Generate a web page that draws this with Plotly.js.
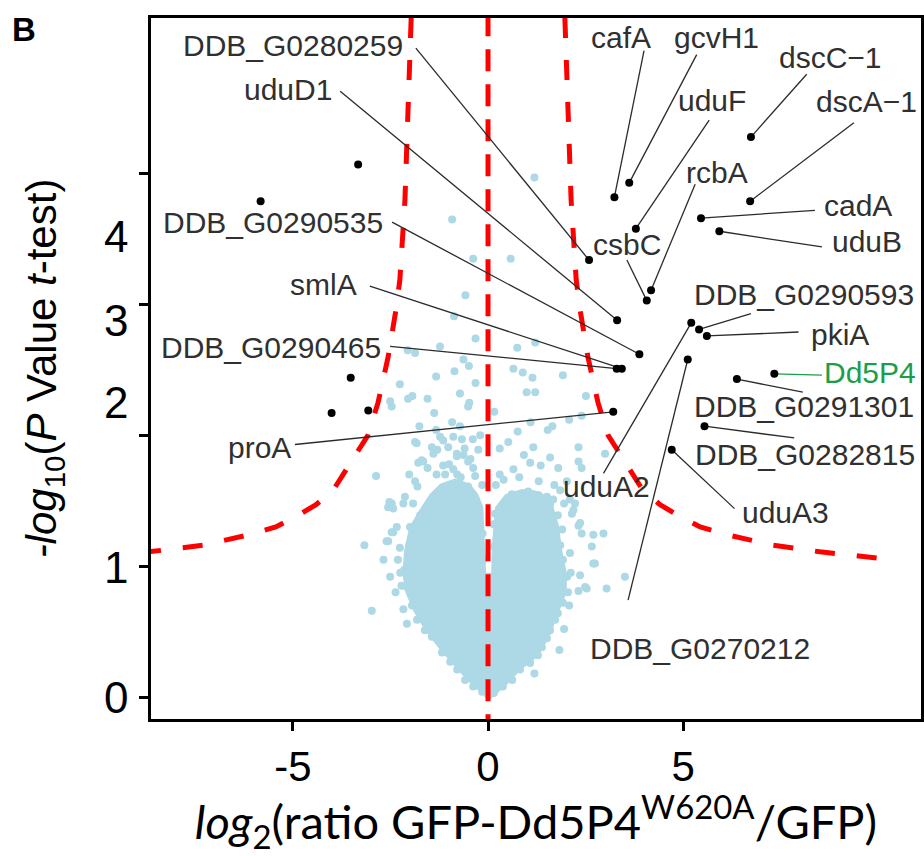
<!DOCTYPE html>
<html><head><meta charset="utf-8">
<script src="https://cdn.plot.ly/plotly-3.0.1.min.js"></script>
<style>html,body{margin:0;padding:0;background:#fff}#chart{width:924px;height:856px}</style>
</head><body><div id="chart"></div>
<script>
// ---- background proteins (light blue) ----
const bgX = [1.19,-0.92,-0.38,0.58,-0.58,-0.87,-0.32,-1.23,0.75,1.21,-1.87,-2.06,-0.63,-0.49,0.65,0.89,1.14,1.92,-0.86,-1.33,-2.26,-0.32,-0.72,0.99,1.21,2.51,-2.05,-1.94,-1.55,-0.48,-0.51,-1.38,0.16,-1.76,-0.92,-1.33,0.76,1.09,1.53,1.65,2.08,2.40,-0.72,-2.87,-2.51,-2.47,
 -1.87,-1.15,-0.89,-0.67,-0.39,-0.25,-1.44,-1.30,-1.70,-1.79,-1.15,-0.80,-0.63,-0.51,-0.38,-1.32,-1.87,-1.81,-0.89,-0.79,-0.33,-0.51,-2.13,-2.47,-2.56,-2.17,-1.92,-1.49,-1.19,1.16,1.59,2.32,2.32,2.40,3.00,1.08,1.35,0.65,0.80,0.99,1.15,0.61,0.45,0.69,1.40,1.51,1.67,1.85,1.95,2.10,2.23,2.15,2.36,1.61,2.19,-2.53,-2.43,-2.47,-2.34,-2.60,-3.17,-2.68,-2.51,-2.98,-1.83,-1.23,-1.40,-1.66,-1.02,-0.80,
 2.70,2.96,2.40,2.66,2.70,2.74,3.51,3.04,2.49,2.32,2.53,2.08,1.95,1.83,1.19,2.36,2.32,-2.56,-2.43,-2.00,-1.70,-2.37,-2.17,-2.08,-2.02,
 -2.00,-2.15,-2.08,-1.95,-1.82,-1.62,-1.44,-1.18,-0.97,-0.79,-0.59,-0.38,-2.26,-2.31,-1.74,-1.54,-1.31,-1.05,
 0.38,0.62,0.82,1.08,1.28,1.38,1.51,1.59,1.72,1.79,1.92,2.05,2.03,1.92,1.85,1.90,1.79,1.59,1.33,1.03,0.69,0.00,0.15,-0.15,
 -0.60,-0.45,-1.00,-1.55,-2.02,-0.20,0.30,0.52,0.92,1.80,2.02,1.30,0.30,-2.25,-2.22,2.12,2.10,-0.15,0.20,-1.10,-0.70,0.40,1.70,
 -0.14,0.16,-0.12,0.14,-0.16,0.18];
const bgY = [3.97,3.65,3.35,3.35,3.07,2.91,2.74,2.68,2.67,2.71,2.63,2.65,2.58,2.53,2.51,2.48,2.44,2.46,2.49,2.45,2.39,2.40,2.32,2.33,2.33,2.30,2.28,2.30,2.28,2.25,2.22,2.17,2.18,2.07,2.10,2.04,2.03,2.10,2.04,2.07,2.12,2.15,2.07,1.69,2.26,2.22,
 1.95,1.96,1.99,1.97,1.97,1.89,1.91,1.89,1.81,1.79,1.77,1.84,1.85,1.80,1.75,1.70,1.65,1.61,1.74,1.70,1.69,1.61,1.53,1.48,1.45,1.48,1.48,1.42,1.56,1.91,1.83,1.91,1.80,1.75,1.86,1.79,1.77,1.74,1.68,1.56,1.55,1.55,1.48,1.43,1.51,1.53,1.51,1.58,1.48,1.51,1.48,1.40,1.33,1.33,1.43,1.49,1.44,1.26,1.30,1.19,1.16,1.05,0.92,0.66,1.94,1.99,1.86,1.80,1.91,1.86,
 1.24,1.25,1.25,1.15,1.02,1.02,0.92,0.83,0.84,0.81,0.83,0.70,0.52,0.36,0.18,0.93,1.31,1.19,1.26,1.30,1.31,0.80,0.67,0.56,1.16,
 1.10,0.97,0.84,0.70,0.59,0.51,0.46,0.34,0.27,0.21,0.13,0.08,1.14,1.05,1.39,1.47,1.54,1.60,
 0.08,0.13,0.21,0.26,0.32,0.38,0.45,0.51,0.59,0.64,0.72,0.80,0.92,1.05,1.16,1.28,1.39,1.47,1.53,1.57,1.53,0.02,0.03,0.04,
 1.90,1.82,1.78,1.75,1.70,2.00,1.90,1.95,1.85,1.75,1.65,1.65,1.70,0.95,0.85,0.95,1.10,1.62,1.62,1.70,1.68,1.66,1.62,
 1.25,1.15,1.05,1.32,0.98,1.40];
// dense core of the cloud (outline)
const coreX = [0.04,-0.05,-0.12,-0.25,-0.46,-0.85,-1.23,-1.50,-1.76,-2.02,-2.15,-2.20,-2.12,-1.92,-1.64,-1.23,-0.79,-0.38,0.05,0.44,0.82,1.28,1.56,1.80,2.02,2.02,1.90,1.82,1.66,1.35,0.87,0.44,0.18,0.11,0.08];
const coreY = [0.95,0.95,1.45,1.55,1.63,1.67,1.63,1.55,1.43,1.30,1.12,0.95,0.80,0.66,0.52,0.36,0.21,0.08,-0.02,0.08,0.20,0.31,0.45,0.63,0.80,0.95,1.12,1.31,1.47,1.57,1.59,1.55,1.45,1.20,0.95];

// ---- significant proteins ----
const hitNames = ['DDB_G0280259','uduD1','DDB_G0290535','smlA','DDB_G0290465','proA','cafA','gcvH1','dscC\u22121','uduF','dscA\u22121','rcbA','cadA','uduB','csbC','DDB_G0290593','pkiA','Dd5P4','DDB_G0291301','DDB_G0282815','uduA2','uduA3','DDB_G0270212'];
const hitX = [2.59,3.31,3.88,3.43,3.30,3.21,3.24,3.62,6.74,3.79,6.72,4.18,5.46,5.93,4.07,5.41,5.61,7.34,6.38,5.55,5.21,4.71,5.12];
const hitY = [3.34,2.88,2.62,2.51,2.51,2.18,3.82,3.93,4.28,3.58,3.79,3.11,3.66,3.56,3.03,2.81,2.76,2.47,2.43,2.07,2.86,1.89,2.58];
const otherX = [-3.33,-5.83,-3.52,-4.01,-3.07];
const otherY = [4.07,3.79,2.44,2.17,2.19];
// label placement (text centre) and leader start
const labelX = [-5.00,-5.13,-5.50,-4.23,-5.56,-5.85,3.41,5.85,8.79,5.74,9.69,5.87,9.49,9.72,3.56,8.10,9.03,9.79,8.10,8.13,3.05,7.62,5.44];
const labelY = [4.98,4.64,3.63,3.15,2.67,1.91,5.04,5.04,4.89,4.56,4.55,4.01,3.76,3.48,3.46,3.08,2.77,2.48,2.22,1.85,1.61,1.41,0.37];
const leadX = [-1.85,-3.79,-2.46,-3.03,-2.51,-4.95,4.00,5.35,8.17,5.67,9.38,5.31,8.38,8.56,3.56,6.74,7.96,8.56,8.07,7.85,2.96,6.32,3.59];
const leadY = [4.96,4.63,3.63,3.14,2.68,1.93,4.94,4.91,4.76,4.41,4.39,3.92,3.72,3.44,3.34,2.93,2.79,2.46,2.33,1.98,1.71,1.44,0.74];

// ---- threshold curves (right branch; left is its mirror) ----
const curveX = [1.97,2.05,2.13,2.26,2.36,2.56,2.82,3.08,3.31,3.64,3.97,4.41,4.92,5.44,6.13,7.31,8.51,10.05];
const curveY = [5.19,4.56,3.80,3.19,2.96,2.60,2.25,2.00,1.89,1.72,1.58,1.47,1.38,1.30,1.24,1.16,1.11,1.06];
const vlineX = [0,0];
const vlineY = [-0.3,5.4];

const xTicks = [-5,0,5];
const yTicks = [0,1,2,3,4];
const yTickText = ['0','1','2','3','4'];
const yTickTextPos = [0.0,0.99,2.25,2.88,3.52];

const traces = [];
traces.push({type:'scatter',x:coreX,y:coreY,mode:'lines',fill:'toself',fillcolor:'#ADD8E6',line:{width:0,color:'#ADD8E6'},hoverinfo:'skip',showlegend:false});
traces.push({type:'scatter',x:bgX,y:bgY,mode:'markers',marker:{size:8,color:'#ADD8E6'},showlegend:false});
const dashRed = {color:'#FF0000',width:5,dash:'20px,22px'};
traces.push({type:'scatter',x:curveX.map(v=>-v),y:curveY,mode:'lines',line:dashRed,showlegend:false});
traces.push({type:'scatter',x:curveX,y:curveY,mode:'lines',line:dashRed,showlegend:false});
traces.push({type:'scatter',x:vlineX,y:vlineY,mode:'lines',line:{color:'#FF0000',width:5,dash:'22px,13px'},showlegend:false});
const lx=[],ly=[],gx=[],gy=[];
hitNames.forEach((n,i)=>{
  if(n==='Dd5P4'){gx.push(leadX[i],hitX[i]);gy.push(leadY[i],hitY[i]);}
  else{lx.push(leadX[i],hitX[i],null);ly.push(leadY[i],hitY[i],null);}
});
traces.push({type:'scatter',x:lx,y:ly,mode:'lines',line:{color:'#2b2b2b',width:1.3},showlegend:false,hoverinfo:'skip'});
traces.push({type:'scatter',x:gx,y:gy,mode:'lines',line:{color:'#1a9e4a',width:1.3},showlegend:false,hoverinfo:'skip'});
traces.push({type:'scatter',x:hitX.concat(otherX),y:hitY.concat(otherY),mode:'markers',marker:{size:8,color:'#000000'},showlegend:false});

const annotations = hitNames.map((n,i)=>({x:labelX[i],y:labelY[i],xref:'x',yref:'y',text:n,showarrow:false,
  font:{family:'Liberation Sans, Arial, sans-serif',size:30,color:n==='Dd5P4'?'#1a9e4a':'#303030'},xanchor:'center',yanchor:'middle'}));
yTickText.forEach((t,i)=>annotations.push({x:-0.045,xref:'paper',y:yTickTextPos[i],yref:'y',text:t,showarrow:false,
  font:{family:'Liberation Sans, Arial, sans-serif',size:44,color:'#000'},xanchor:'center',yanchor:'middle'}));
annotations.push({x:-0.165,y:0.983,xref:'paper',yref:'paper',text:'<b>B</b>',showarrow:false,
  font:{family:'Liberation Sans, Arial, sans-serif',size:33,color:'#000'},xanchor:'center',yanchor:'middle'});

const layout = {
  width:924,height:856,
  margin:{l:151,r:3,t:18,b:137,pad:0},
  paper_bgcolor:'#fff',plot_bgcolor:'#fff',
  showlegend:false,
  xaxis:{range:[-8.64,11.1],tickvals:xTicks,ticktext:['-5','0','5'],ticks:'outside',ticklen:9,tickwidth:3,tickcolor:'#000',
    showline:true,linewidth:3,linecolor:'#000',mirror:true,showgrid:false,zeroline:false,automargin:false,
    tickfont:{family:'Liberation Sans, Arial, sans-serif',size:42,color:'#000'},
    title:{text:'<i>log</i><sub>2</sub>(ratio GFP-Dd5P4<sup>W620A</sup>/GFP)',font:{family:'Lato, sans-serif',size:47,color:'#000'},standoff:16}},
  yaxis:{range:[-0.168,5.19],tickvals:yTicks,ticks:'outside',ticklen:9,tickwidth:3,tickcolor:'#000',showticklabels:false,
    showline:true,linewidth:3,linecolor:'#000',mirror:true,showgrid:false,zeroline:false,automargin:false,
    title:{text:'<i>-log</i><sub>10</sub>(<i>P</i> Value <i>t</i>-test)',font:{family:'Liberation Sans, Arial, sans-serif',size:42,color:'#000'},standoff:70}},
  annotations:annotations
};
Plotly.newPlot('chart',traces,layout,{displayModeBar:false,staticPlot:true});
</script></body></html>
